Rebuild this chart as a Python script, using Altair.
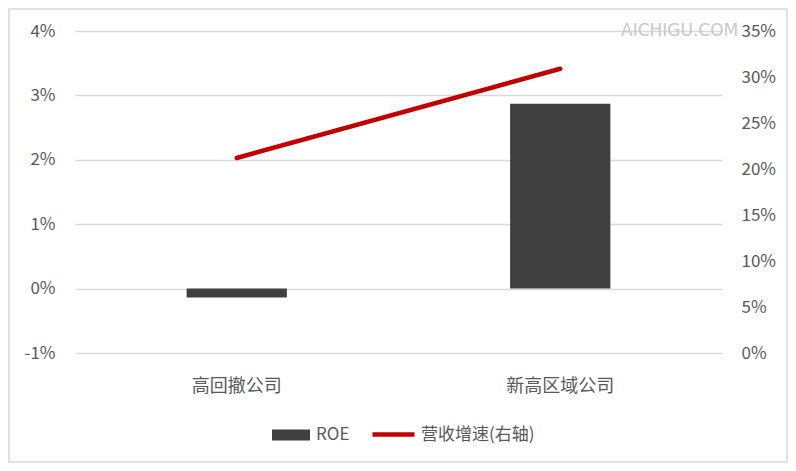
import altair as alt
import pandas as pd

categories = ["高回撤公司", "新高区域公司"]
roe = [-0.0014, 0.0287]
growth = [0.212, 0.309]
left_ticks = [-0.01, 0.0, 0.01, 0.02, 0.03, 0.04]
right_ticks = [0.0, 0.05, 0.10, 0.15, 0.20, 0.25, 0.30, 0.35]

df = pd.DataFrame({
    "cat": categories,
    "roe": roe,
    "growth": growth,
    "s1": ["ROE"] * 2,
    "s2": ["营收增速(右轴)"] * 2,
})

FONT = "Noto Sans CJK SC"
GRAY = "#595959"

base = alt.Chart(df)

xenc = alt.X("cat:N", sort=categories, title=None,
             scale=alt.Scale(paddingInner=0.69, paddingOuter=0.345),
             axis=alt.Axis(labelAngle=0, labelPadding=24, ticks=False, domain=False,
                           labelFont=FONT, labelFontSize=18, labelColor=GRAY))

bars = base.mark_bar().encode(
    x=xenc,
    y=alt.Y("roe:Q", title=None,
            scale=alt.Scale(domain=[-0.01, 0.04], nice=False),
            axis=alt.Axis(values=left_ticks, format=".0%", orient="left", domain=False,
                          labelExpr="datum.value < 0 ? '-' + format(-datum.value, '.0%') : datum.label",
                          ticks=False, labelPadding=20, gridColor="#d9d9d9",
                          labelFont=FONT, labelFontSize=17, labelColor=GRAY)),
    color=alt.Color("s1:N", scale=alt.Scale(range=["#404040"]),
                    legend=alt.Legend(title=None, orient="none", legendX=197, legendY=385,
                                      padding=0,
                                      symbolType="M-1,-0.29L1,-0.29L1,0.29L-1,0.29Z",
                                      symbolSize=1444, symbolStrokeWidth=0,
                                      symbolOpacity=1, labelOffset=6,
                                      labelFont=FONT, labelFontSize=17, labelColor=GRAY)),
)

line = base.mark_line(strokeWidth=4.5, strokeCap="round").encode(
    x=alt.X("cat:N", sort=categories),
    y=alt.Y("growth:Q", title=None,
            scale=alt.Scale(domain=[0, 0.35], nice=False),
            axis=alt.Axis(values=right_ticks, format=".0%", orient="right", domain=False,
                          ticks=False, grid=False, labelPadding=19, labelAlign="left",
                          labelFont=FONT, labelFontSize=17, labelColor=GRAY)),
    stroke=alt.Stroke("s2:N", scale=alt.Scale(range=["#C00000"]),
                      legend=alt.Legend(title=None, orient="none", legendX=295, legendY=380,
                                        padding=0, symbolType="stroke", symbolSize=1764,
                                        symbolStrokeWidth=4.5, labelOffset=4,
                                        labelFont=FONT, labelFontSize=17, labelColor=GRAY)),
)

frame = alt.Chart(alt.Data(values=[{}])).mark_rect(
    fillOpacity=0, stroke="#d9d9d9", strokeWidth=1.5
).encode(x=alt.value(-66), x2=alt.value(712), y=alt.value(-22), y2=alt.value(431))

watermark = alt.Chart(alt.Data(values=[{"t": "AICHIGU.COM"}])).mark_text(
    align="left", baseline="middle", fontSize=17, color="#c8c8c8", font="DejaVu Sans"
).encode(x=alt.value(546), y=alt.value(0), text="t:N")

chart = alt.layer(
    alt.layer(bars, line).resolve_scale(y="independent", color="independent"),
    frame, watermark
).properties(
    width=647, height=322,
    padding={"left": 67, "top": 23, "right": 66, "bottom": 110},
    autosize=alt.AutoSizeParams(type="none"),
).configure_view(stroke=None).configure_axis(gridWidth=1.5)

chart.save("out.html", embed_options={"renderer": "svg", "actions": False})
